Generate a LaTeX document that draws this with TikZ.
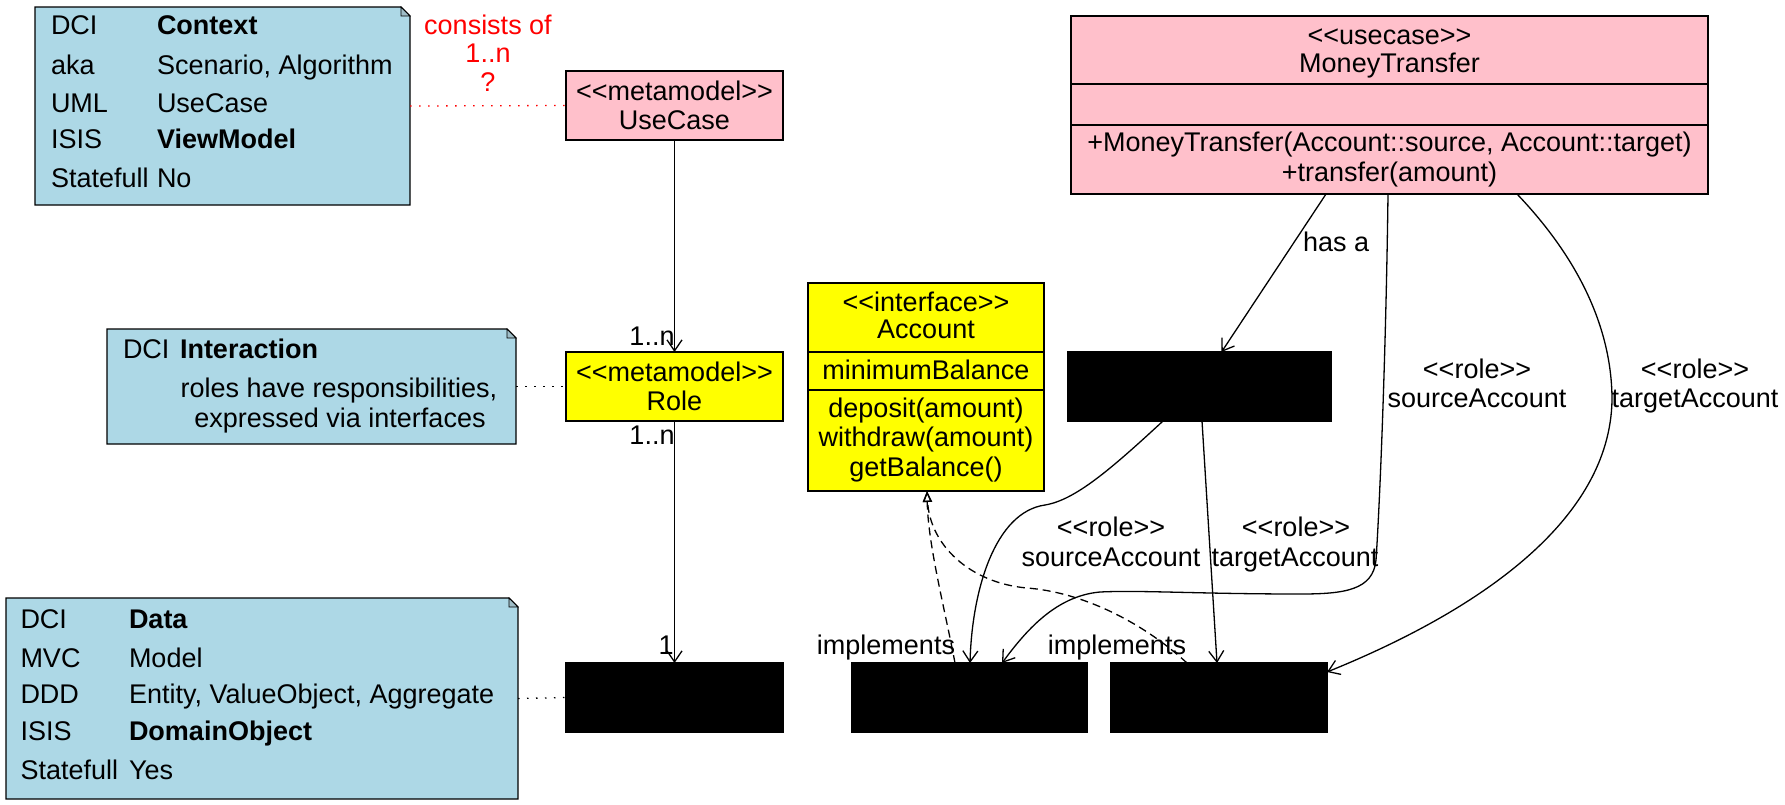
\documentclass[tikz,border=0pt]{standalone}
\usepackage{fontspec}
\setmainfont{Liberation Sans}
\usetikzlibrary{arrows.meta}
\definecolor{notebg}{RGB}{173,216,230}
\definecolor{ucpink}{RGB}{255,192,203}
\definecolor{roleyel}{RGB}{255,255,0}
\definecolor{umlred}{RGB}{255,0,0}
\newcommand\stl{<\kern0pt<}
\newcommand\stg{>\kern0pt>}
\tikzset{
  every node/.style={font=\fontsize{27}{29}\selectfont, inner sep=0pt, outer sep=0pt},
  box/.style={draw=black, line width=1.3pt, rectangle, align=center},
  blackbox/.style={draw=black, fill=black, line width=1.3pt, rectangle, minimum height=69pt},
  holder/.style={rectangle, draw=none},
  txt/.style={anchor=base},
  ltxt/.style={anchor=base west},
  assoc/.style={line width=1.3pt, -{Straight Barb[length=11pt,width=15pt,line width=1.3pt]}},
  realize/.style={line width=1.3pt, dash pattern=on 8pt off 5pt, -{Triangle[open,length=11pt,width=9pt,line width=1.3pt]}},
  notelink/.style={line width=1.3pt, dash pattern=on 1.5pt off 7.5pt},
  notebody/.style={fill=notebg, draw=black, line width=1.3pt},
}
\newcommand\drawnote[1]{%
  \draw[notebody] (#1.north west) -- ([xshift=-9pt]#1.north east) -- ([yshift=-9pt]#1.north east) -- (#1.south east) -- (#1.south west) -- cycle;
  \draw[line width=0.8pt, fill=notebg!70!gray] ([xshift=-9pt]#1.north east) -- ([xshift=-9pt,yshift=-9pt]#1.north east) -- ([yshift=-9pt]#1.north east) -- cycle;}
\begin{document}
\begin{tikzpicture}[x=1pt,y=-1pt]
\useasboundingbox (0,0) rectangle (1785,804);

% ---------- notes ----------
\node[holder, minimum width=375pt, minimum height=198pt] (ctx) at (222.5,106) {};
\drawnote{ctx}
\node[ltxt] (c1a) at (51,34.5) {DCI};
\node[ltxt] (c1b) at (157,34.5) {\textbf{Context}};
\node[ltxt] (c2a) at (51,74.5) {aka};
\node[ltxt] (c2b) at (157,74.5) {Scenario, Algorithm};
\node[ltxt] (c3a) at (51,112) {UML};
\node[ltxt] (c3b) at (157,112) {UseCase};
\node[ltxt] (c4a) at (51,148.5) {ISIS};
\node[ltxt] (c4b) at (157,148.5) {\textbf{ViewModel}};
\node[ltxt] (c5a) at (51,187.5) {Statefull};
\node[ltxt] (c5b) at (157,187.5) {No};

\node[holder, minimum width=409pt, minimum height=115pt] (inter) at (311.5,386.5) {};
\drawnote{inter}
\node[ltxt] (i1a) at (123,358.5) {DCI};
\node[ltxt] (i1b) at (180,358.5) {\textbf{Interaction}};
\node[txt] (i2) at (339,397.5) {roles have responsibilities,};
\node[txt] (i3) at (340,427.5) {expressed via interfaces};

\node[holder, minimum width=512pt, minimum height=201pt] (dnote) at (262,698.5) {};
\drawnote{dnote}
\node[ltxt] (d1a) at (20.5,628.5) {DCI};
\node[ltxt] (d1b) at (129,628.5) {\textbf{Data}};
\node[ltxt] (d2a) at (20.5,667.5) {MVC};
\node[ltxt] (d2b) at (129,667.5) {Model};
\node[ltxt] (d3a) at (20.5,703.5) {DDD};
\node[ltxt] (d3b) at (129,703.5) {Entity, ValueObject, Aggregate};
\node[ltxt] (d4a) at (20.5,740.5) {ISIS};
\node[ltxt] (d4b) at (129,740.5) {\textbf{DomainObject}};
\node[ltxt] (d5a) at (20.5,779.5) {Statefull};
\node[ltxt] (d5b) at (129,779.5) {Yes};

% ---------- red text ----------
\node[txt, text=umlred] (r1) at (488,34.5) {consists of};
\node[txt, text=umlred] (r2) at (488,62) {1..n};
\node[txt, text=umlred] (r3) at (488,91.5) {?};

% ---------- metamodel boxes ----------
\node[box, fill=ucpink, minimum width=217pt, minimum height=69pt] (usecase) at (674.5,105.5) {\stl metamodel\stg\\UseCase};
\node[box, fill=roleyel, minimum width=217pt, minimum height=69pt] (role) at (674.5,386.5) {\stl metamodel\stg\\Role};
\node[blackbox, minimum width=217pt] (data) at (674.5,697.5) {};

% ---------- Account interface ----------
\node[box, fill=roleyel, minimum width=236pt, minimum height=208pt] (account) at (926,387) {};
\draw[line width=1.3pt] (account.west |- 0,352) -- (account.east |- 0,352);
\draw[line width=1.3pt] (account.west |- 0,390) -- (account.east |- 0,390);
\node[txt] (a1) at (926,311.5) {\stl interface\stg};
\node[txt] (a2) at (926,338.5) {Account};
\node[txt] (a3) at (926,379.5) {minimumBalance};
\node[txt] (a4) at (926,417.5) {deposit(amount)};
\node[txt] (a5) at (926,446.5) {withdraw(amount)};
\node[txt] (a6) at (926,476.5) {getBalance()};

% ---------- MoneyTransfer ----------
\node[box, fill=ucpink, minimum width=637pt, minimum height=178pt] (mt) at (1389.5,105) {};
\draw[line width=1.3pt] (mt.west |- 0,84) -- (mt.east |- 0,84);
\draw[line width=1.3pt] (mt.west |- 0,125) -- (mt.east |- 0,125);
\node[txt] (m1) at (1389.5,44.5) {\stl usecase\stg};
\node[txt] (m2) at (1389.5,72.5) {MoneyTransfer};
\node[txt] (m3) at (1389.5,151.5) {+MoneyTransfer(Account::source, Account::target)};
\node[txt] (m4) at (1389.5,181.5) {+transfer(amount)};

% ---------- black boxes ----------
\node[blackbox, minimum width=263pt] (mid) at (1199.5,386.5) {};
\node[blackbox, minimum width=235pt] (src) at (969.5,697.5) {};
\node[blackbox, minimum width=216pt] (tgt) at (1219,697.5) {};

% ---------- note links ----------
\draw[notelink, umlred] (ctx.east) -- (usecase.west);
\draw[notelink] (inter.east) -- (role.west);
\draw[notelink] (dnote.east) -- (data.west);

% ---------- metamodel associations ----------
\draw[assoc] (usecase.south) -- (role.north);
\draw[assoc] (role.south) -- (data.north);
\node[txt] (n1) at (652,345.5) {1..n};
\node[txt] (n2) at (652,444.5) {1..n};
\node[txt] (n3) at (666,654.5) {1};

% ---------- MoneyTransfer associations ----------
\draw[assoc] ([xshift=-63.5pt]mt.south) -- ([xshift=22pt]mid.north);
\node[ltxt] (hasa) at (1303,251) {has a};

\draw[assoc] ([xshift=-1.5pt]mt.south) .. controls (1386,350) and (1380,500) .. (1376,560)
  .. controls (1373,590) and (1345,594) .. (1300,594)
  .. controls (1200,594) and (1140,590) .. (1100,592)
  .. controls (1055,596) and (1025,632) .. ([xshift=32.5pt]src.north);
\node[txt] (l1a) at (1477,378.5) {\stl role\stg};
\node[txt] (l1b) at (1477,407.5) {sourceAccount};

\draw[assoc] ([xshift=127.5pt]mt.south) .. controls (1580,260) and (1612,330) .. (1612,400)
  .. controls (1610,520) and (1480,610) .. ([yshift=25.5pt]tgt.east);
\node[txt] (l2a) at (1695,378.5) {\stl role\stg};
\node[txt] (l2b) at (1695,407.5) {targetAccount};

\draw[assoc] ([xshift=-36.5pt]mid.south) .. controls (1110,470) and (1075,500) .. (1045,505)
  .. controls (995,512) and (972,590) .. ([xshift=0.5pt]src.north);
\node[txt] (l3a) at (1111,536.5) {\stl role\stg};
\node[txt] (l3b) at (1111,566.5) {sourceAccount};

\draw[assoc] ([xshift=2.5pt]mid.south) -- ([xshift=-2pt]tgt.north);
\node[txt] (l4a) at (1296,536.5) {\stl role\stg};
\node[txt] (l4b) at (1295,566.5) {targetAccount};

% ---------- implements ----------
\draw[realize] ([xshift=-14.5pt]src.north) .. controls (945,610) and (928,545) .. ([xshift=1pt]account.south);
\draw[realize] ([xshift=-32pt]tgt.north) .. controls (1140,620) and (1080,592) .. (1027,588)
  .. controls (970,583) and (930,545) .. ([xshift=1pt]account.south);
\node[txt] (im1) at (886,654.5) {implements};
\node[txt] (im2) at (1117,654.5) {implements};
\end{tikzpicture}
\end{document}
